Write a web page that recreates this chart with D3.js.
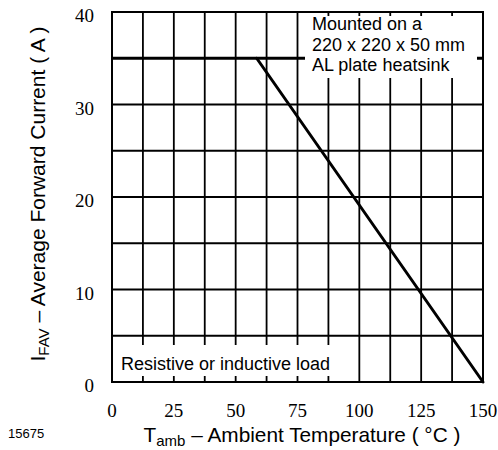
<!DOCTYPE html>
<html><head><meta charset="utf-8">
<script src="https://cdn.jsdelivr.net/npm/d3@7"></script>
<style>body{margin:0;background:#fff}</style>
</head><body>
<svg id="c" width="498" height="450"></svg>
<script>
const xTicks = [0, 25, 50, 75, 100, 125, 150];
const yTicks = [0, 10, 20, 30, 40];
const xGrid = [12.5, 25, 37.5, 50, 62.5, 75, 87.5, 100, 112.5, 125, 137.5];
const yGrid = [5, 10, 15, 20, 25, 30];
const ratingLevel = [35];
const tempC = [58.5, 150];
const currentA = [35, 0];
const noteLines = ["Mounted on a", "220 x 220 x 50 mm", "AL plate heatsink"];

const svg = d3.select("#c");
const x = d3.scaleLinear().domain([0, 150]).range([112, 483]);
const y = d3.scaleLinear().domain([0, 40]).range([382, 12]);
const sans = "Liberation Sans";
const serif = "Liberation Serif";

// grid
svg.append("g").selectAll("line").data(xGrid).join("line")
  .attr("x1", d => x(d)).attr("x2", d => x(d)).attr("y1", y(40)).attr("y2", y(0))
  .attr("stroke", "#000").attr("stroke-width", 1.8);
svg.append("g").selectAll("line").data(yGrid).join("line")
  .attr("x1", x(0)).attr("x2", x(150)).attr("y1", d => y(d)).attr("y2", d => y(d))
  .attr("stroke", "#000").attr("stroke-width", 1.8);
svg.append("g").selectAll("line").data(ratingLevel).join("line")
  .attr("x1", x(0)).attr("x2", x(150)).attr("y1", d => y(d)).attr("y2", d => y(d))
  .attr("stroke", "#000").attr("stroke-width", 3);

// white label boxes masking grid
svg.append("rect").attr("x", 305).attr("y", 16).attr("width", 172).attr("height", 62).attr("fill", "#fff");
svg.append("rect").attr("x", 114).attr("y", 345).attr("width", 222).attr("height", 31).attr("fill", "#fff");

// data line
svg.append("path")
  .datum(tempC.map((t, i) => [t, currentA[i]]))
  .attr("d", d3.line().x(d => x(d[0])).y(d => y(d[1])))
  .attr("fill", "none").attr("stroke", "#000").attr("stroke-width", 3).attr("stroke-linecap", "round");

// border
svg.append("rect").attr("x", x(0)).attr("y", y(40)).attr("width", x(150) - x(0)).attr("height", y(0) - y(40))
  .attr("fill", "none").attr("stroke", "#000").attr("stroke-width", 2);

// notes
svg.append("text").style("font-family", sans).style("font-size", "18px").attr("fill", "#000")
  .selectAll("tspan").data(noteLines).join("tspan")
  .attr("x", 312).attr("y", (d, i) => 30 + i * 20.5).text(d => d);
svg.append("text").style("font-family", sans).style("font-size", "18px").attr("x", 121).attr("y", 370)
  .text("Resistive or inductive load");

// tick labels
svg.append("g").selectAll("text").data(xTicks).join("text")
  .attr("x", d => x(d)).attr("y", 417).attr("text-anchor", "middle")
  .style("font-family", serif).style("font-size", "19px").text(d => d);
svg.append("g").selectAll("text").data(yTicks).join("text")
  .attr("x", 94).attr("y", d => y(d) + 10).attr("text-anchor", "end")
  .style("font-family", serif).style("font-size", "19px").text(d => d);

// axis titles
const xt = svg.append("text").style("font-family", sans).style("font-size", "20.8px")
  .attr("x", 302).attr("y", 442).attr("text-anchor", "middle");
xt.append("tspan").text("T");
xt.append("tspan").style("font-size", "15px").attr("dy", 4).text("amb");
xt.append("tspan").attr("dy", -4).text(" \u2013 Ambient Temperature ( \u00B0C )");

const yt = svg.append("text").style("font-family", sans).style("font-size", "21px")
  .attr("transform", "translate(45,194) rotate(-90)").attr("text-anchor", "middle");
yt.append("tspan").text("I");
yt.append("tspan").style("font-size", "15px").attr("dy", 4).text("FAV");
yt.append("tspan").attr("dy", -4).text(" \u2013 Average Forward Current ( A )");

svg.append("text").style("font-family", sans).style("font-size", "13px").attr("x", 8).attr("y", 438).text("15675");
</script>
</body></html>
